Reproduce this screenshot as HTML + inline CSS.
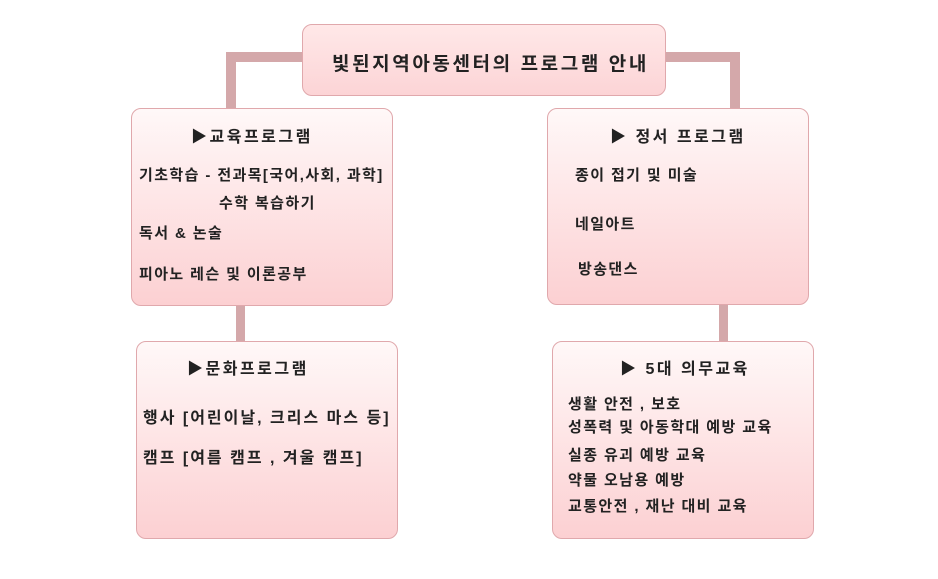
<!DOCTYPE html>
<html><head><meta charset="utf-8"><style>
body{margin:0;width:938px;height:579px;background:#fff;position:relative;overflow:hidden;font-family:"Liberation Sans","Noto Sans CJK KR",sans-serif;color:#222;}
.b{position:absolute;border:1px solid #e0a8ac;border-radius:10px;background:linear-gradient(#fff8f8,#fcd0d2);box-sizing:border-box}
.t{position:absolute;font-size:15px;letter-spacing:1.4px;white-space:nowrap;font-weight:bold}
.h{font-size:16px;letter-spacing:2.5px}
.m{font-size:16px;letter-spacing:2px}
.l{position:absolute;background:#d4a8aa}
</style></head><body>
<div class="l" style="left:226px;top:52px;width:80px;height:10px;border-radius:8px 0 0 0"></div>
<div class="l" style="left:226px;top:52px;width:10px;height:60px"></div>
<div class="l" style="left:660px;top:52px;width:80px;height:10px;border-radius:0 8px 0 0"></div>
<div class="l" style="left:730px;top:52px;width:10px;height:60px"></div>
<div class="l" style="left:236px;top:303px;width:9px;height:41px"></div>
<div class="l" style="left:719px;top:303px;width:9px;height:41px"></div>

<div class="b" style="left:302px;top:24px;width:364px;height:72px;background:linear-gradient(#ffe8e8,#fcd4d6)"></div>
<div class="t" style="left:332px;top:49px;font-size:19px;letter-spacing:2.6px">빛된지역아동센터의 프로그램 안내</div>

<div class="b" style="left:131px;top:108px;width:262px;height:198px"></div>
<div class="t h" style="left:191px;top:123px">▶교육프로그램</div>
<div class="t" style="left:139px;top:164px">기초학습 - 전과목[국어,사회, 과학]</div>
<div class="t" style="left:219px;top:192px">수학 복습하기</div>
<div class="t" style="left:139px;top:222px">독서 &amp; 논술</div>
<div class="t" style="left:139px;top:263px">피아노 레슨 및 이론공부</div>

<div class="b" style="left:547px;top:108px;width:262px;height:197px"></div>
<div class="t h" style="left:610px;top:123px">▶ 정서 프로그램</div>
<div class="t" style="left:575px;top:164px">종이 접기 및 미술</div>
<div class="t" style="left:575px;top:213px">네일아트</div>
<div class="t" style="left:578px;top:258px">방송댄스</div>

<div class="b" style="left:136px;top:341px;width:262px;height:198px"></div>
<div class="t h" style="left:187px;top:355px">▶문화프로그램</div>
<div class="t m" style="left:143px;top:404px">행사 [어린이날, 크리스 마스 등]</div>
<div class="t m" style="left:143px;top:444px">캠프 [여름 캠프 , 겨울 캠프]</div>

<div class="b" style="left:552px;top:341px;width:262px;height:198px"></div>
<div class="t h" style="left:620px;top:355px">▶ 5대 의무교육</div>
<div class="t" style="left:568px;top:393px">생활 안전 , 보호</div>
<div class="t" style="left:568px;top:416px">성폭력 및 아동학대 예방 교육</div>
<div class="t" style="left:568px;top:444px">실종 유괴 예방 교육</div>
<div class="t" style="left:568px;top:469px">약물 오남용 예방</div>
<div class="t" style="left:568px;top:495px">교통안전 , 재난 대비 교육</div>
</body></html>
